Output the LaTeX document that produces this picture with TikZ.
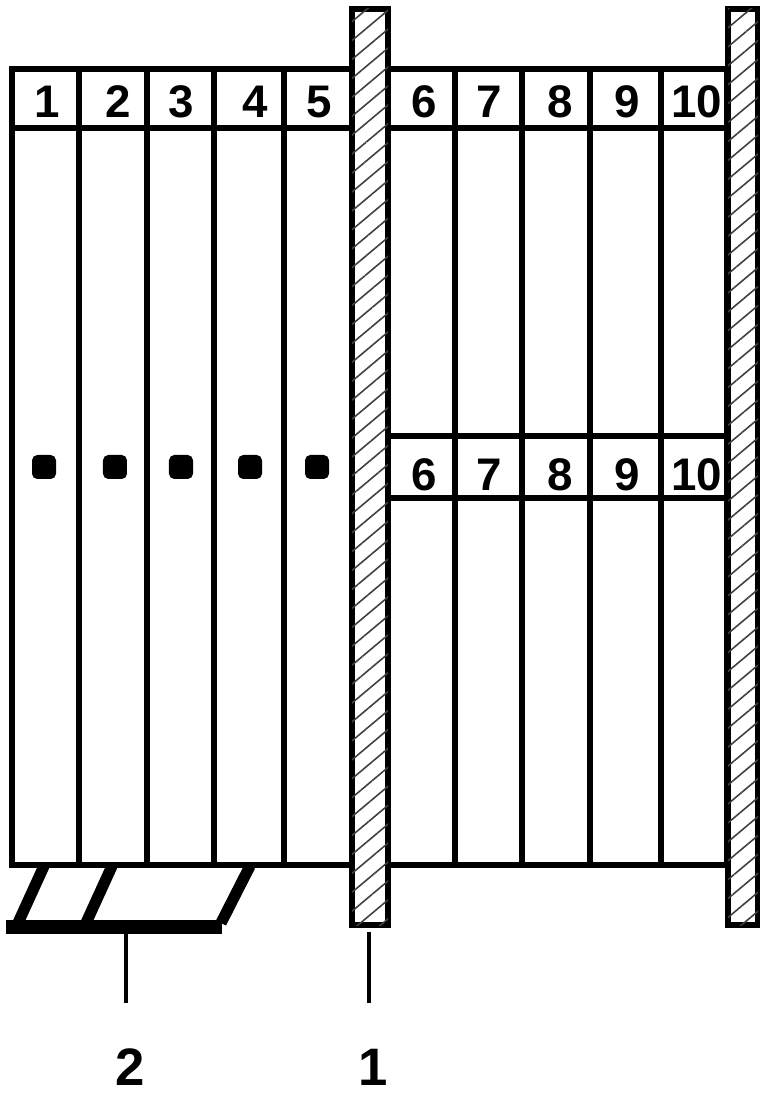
\documentclass[tikz,border=0pt]{standalone}
\usepackage{fontspec}
\setmainfont{Liberation Sans}
\usetikzlibrary{patterns.meta}
\tikzset{
    wall/.style={draw,line width=1.5pt,fill=white,
        postaction={pattern={Lines[angle=40,distance=1.45mm,line width=.45pt]},pattern color=black!75}},
    rail/.style={line width=1.5pt},
    foot/.style={line width=3.2pt},
    base/.style={line width=4pt},
    leader/.style={line width=1pt},
    num/.style={font=\fontsize{13}{13}\selectfont\bfseries,inner sep=0pt},
    tag/.style={font=\fontsize{15}{15}\selectfont\bfseries,inner sep=0pt},
    dot/.style={fill=black,rounded corners=1.5pt,minimum size=.24cm,inner sep=0pt}
}
\begin{document}
\begin{tikzpicture}
        \useasboundingbox (0,0) rectangle (7.6,10.93);

        % left block
        \draw[rail] (.12,10.24) rectangle (3.52,2.28);
        \draw[rail] (.12,9.65)--(3.52,9.65);
        \draw[rail] (.79,10.24)--(.79,2.28);
        \draw[rail] (1.47,10.24)--(1.47,2.28);
        \draw[rail] (2.14,10.24)--(2.14,2.28);
        \draw[rail] (2.84,10.24)--(2.84,2.28);

        % right block
        \draw[rail] (3.88,10.24) rectangle (7.27,2.28);
        \draw[rail] (3.88,9.65)--(7.27,9.65);
        \draw[rail] (3.88,6.57)--(7.27,6.57);
        \draw[rail] (3.88,5.95)--(7.27,5.95);
        \draw[rail] (4.55,10.24)--(4.55,2.28);
        \draw[rail] (5.22,10.24)--(5.22,2.28);
        \draw[rail] (5.90,10.24)--(5.90,2.28);
        \draw[rail] (6.61,10.24)--(6.61,2.28);

        % hatched walls
        \draw[wall] (3.52,1.68) rectangle (3.88,10.84);
        \draw[wall] (7.28,1.68) rectangle (7.58,10.84);

        % feet
        \draw[foot] (.44,2.27)--(.18,1.70);
        \draw[foot] (1.12,2.27)--(.86,1.70);
        \draw[foot] (2.50,2.27)--(2.21,1.70);
        \draw[base] (.06,1.66)--(2.22,1.66);

        % top row
        \draw (.47,9.91) node[num] (n1) {1};
        \draw (1.18,9.91) node[num] (n2) {2};
        \draw (1.81,9.91) node[num] (n3) {3};
        \draw (2.55,9.91) node[num] (n4) {4};
        \draw (3.19,9.91) node[num] (n5) {5};
        \draw (4.24,9.91) node[num] (n6) {6};
        \draw (4.89,9.91) node[num] (n7) {7};
        \draw (5.60,9.91) node[num] (n8) {8};
        \draw (6.27,9.91) node[num] (n9) {9};
        \draw (6.97,9.91) node[num] (n10) {10};

        % middle row
        \draw (.44,6.26) node[dot] (d1) {};
        \draw (1.15,6.26) node[dot] (d2) {};
        \draw (1.81,6.26) node[dot] (d3) {};
        \draw (2.50,6.26) node[dot] (d4) {};
        \draw (3.17,6.26) node[dot] (d5) {};
        \draw (4.24,6.18) node[num] (m6) {6};
        \draw (4.89,6.18) node[num] (m7) {7};
        \draw (5.60,6.18) node[num] (m8) {8};
        \draw (6.27,6.18) node[num] (m9) {9};
        \draw (6.97,6.18) node[num] (m10) {10};

        % leaders
        \draw (1.30,.26) node[tag] (two) {2};
        \draw (3.73,.26) node[tag] (one) {1};
        \coordinate (twotop) at (1.26,1.61);
        \coordinate (twoend) at (1.26,.90);
        \coordinate (onetop) at (3.69,1.61);
        \coordinate (oneend) at (3.69,.90);
        \draw[leader] (twotop)--(twoend);
        \draw[leader] (onetop)--(oneend);
    \end{tikzpicture}
\end{document}
